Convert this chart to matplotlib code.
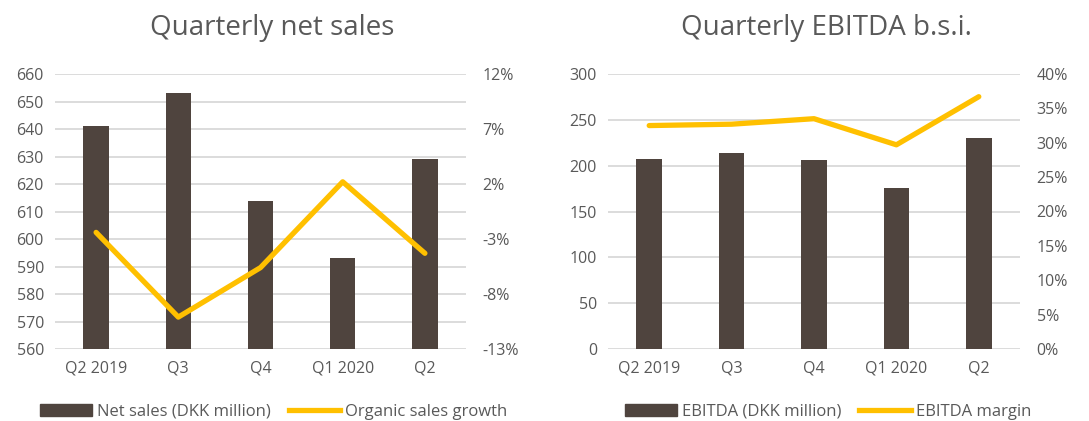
import matplotlib
matplotlib.use("Agg")
import matplotlib.pyplot as plt
from matplotlib.patches import Patch
from matplotlib.lines import Line2D
from matplotlib.ticker import FuncFormatter

quarters = ["Q2 2019", "Q3", "Q4", "Q1 2020", "Q2"]
net_sales = [641, 653, 614, 593, 629]
organic_growth = [-2.4, -10.1, -5.6, 2.2, -4.3]
ebitda = [207, 214, 206, 176, 230]
ebitda_margin = [32.5, 32.7, 33.5, 29.7, 36.7]

BAR = "#4f443e"
LINE = "#ffc000"
TEXT = "#595959"
GRID = "#d9d9d9"

plt.rcParams["font.family"] = ["Open Sans", "DejaVu Sans"]

W, H = 1089, 421
fig = plt.figure(figsize=(W / 100, H / 100), dpi=100)


def panel(x0, x1, title, bars, line, ylim, yticks, rlim, rticks,
          bar_label, line_label, leg_x):
    ax = fig.add_axes([x0 / W, 72 / H, (x1 - x0) / W, 275 / H])
    xs = range(len(quarters))
    ax.bar(xs, bars, width=0.31, color=BAR, zorder=2)
    ax.set_xlim(-0.5, 4.5)
    ax.set_ylim(*ylim)
    ax.set_yticks(yticks)
    ax.set_xticks(list(xs))
    ax.set_xticklabels(quarters)
    ax.grid(axis="y", color=GRID, linewidth=1.3, zorder=0)
    ax.set_axisbelow(True)
    ax.tick_params(length=0, labelsize=11.5, colors=TEXT, pad=8)
    for s in ax.spines.values():
        s.set_visible(False)
    # title sits centred over plot + right-hand labels
    ax.set_title(title, fontsize=20, color=TEXT, pad=28,
                 x=0.5 + 12 / (x1 - x0))

    ax2 = ax.twinx()
    ax2.plot(xs, line, color=LINE, linewidth=3.8, solid_capstyle="round",
             solid_joinstyle="round", zorder=3)
    ax2.set_ylim(*rlim)
    ax2.set_yticks(rticks)
    ax2.yaxis.set_major_formatter(FuncFormatter(lambda v, p: f"{v:.0f}%"))
    ax2.tick_params(length=0, labelsize=11.5, colors=TEXT, pad=12)
    for s in ax2.spines.values():
        s.set_visible(False)

    handles = [Patch(color=BAR), Line2D([], [], color=LINE, linewidth=3.8)]
    fig.legend(handles, [bar_label, line_label], ncol=2, frameon=False,
               loc="center left", bbox_to_anchor=(leg_x / W, 1 - 412 / H),
               fontsize=12, labelcolor=TEXT, handlelength=3.1,
               handletextpad=0.3, columnspacing=1.1, borderpad=0,
               borderaxespad=0)
    return ax


panel(55, 466, "Quarterly net sales", net_sales, organic_growth,
      (560, 660), range(560, 661, 10), (-13, 12), range(-13, 13, 5),
      "Net sales (DKK million)", "Organic sales growth", 40)

panel(608, 1020, "Quarterly EBITDA b.s.i.", ebitda, ebitda_margin,
      (0, 300), range(0, 301, 50), (0, 40), range(0, 41, 5),
      "EBITDA (DKK million)", "EBITDA margin", 625)

fig.savefig("out.png", dpi=100)
